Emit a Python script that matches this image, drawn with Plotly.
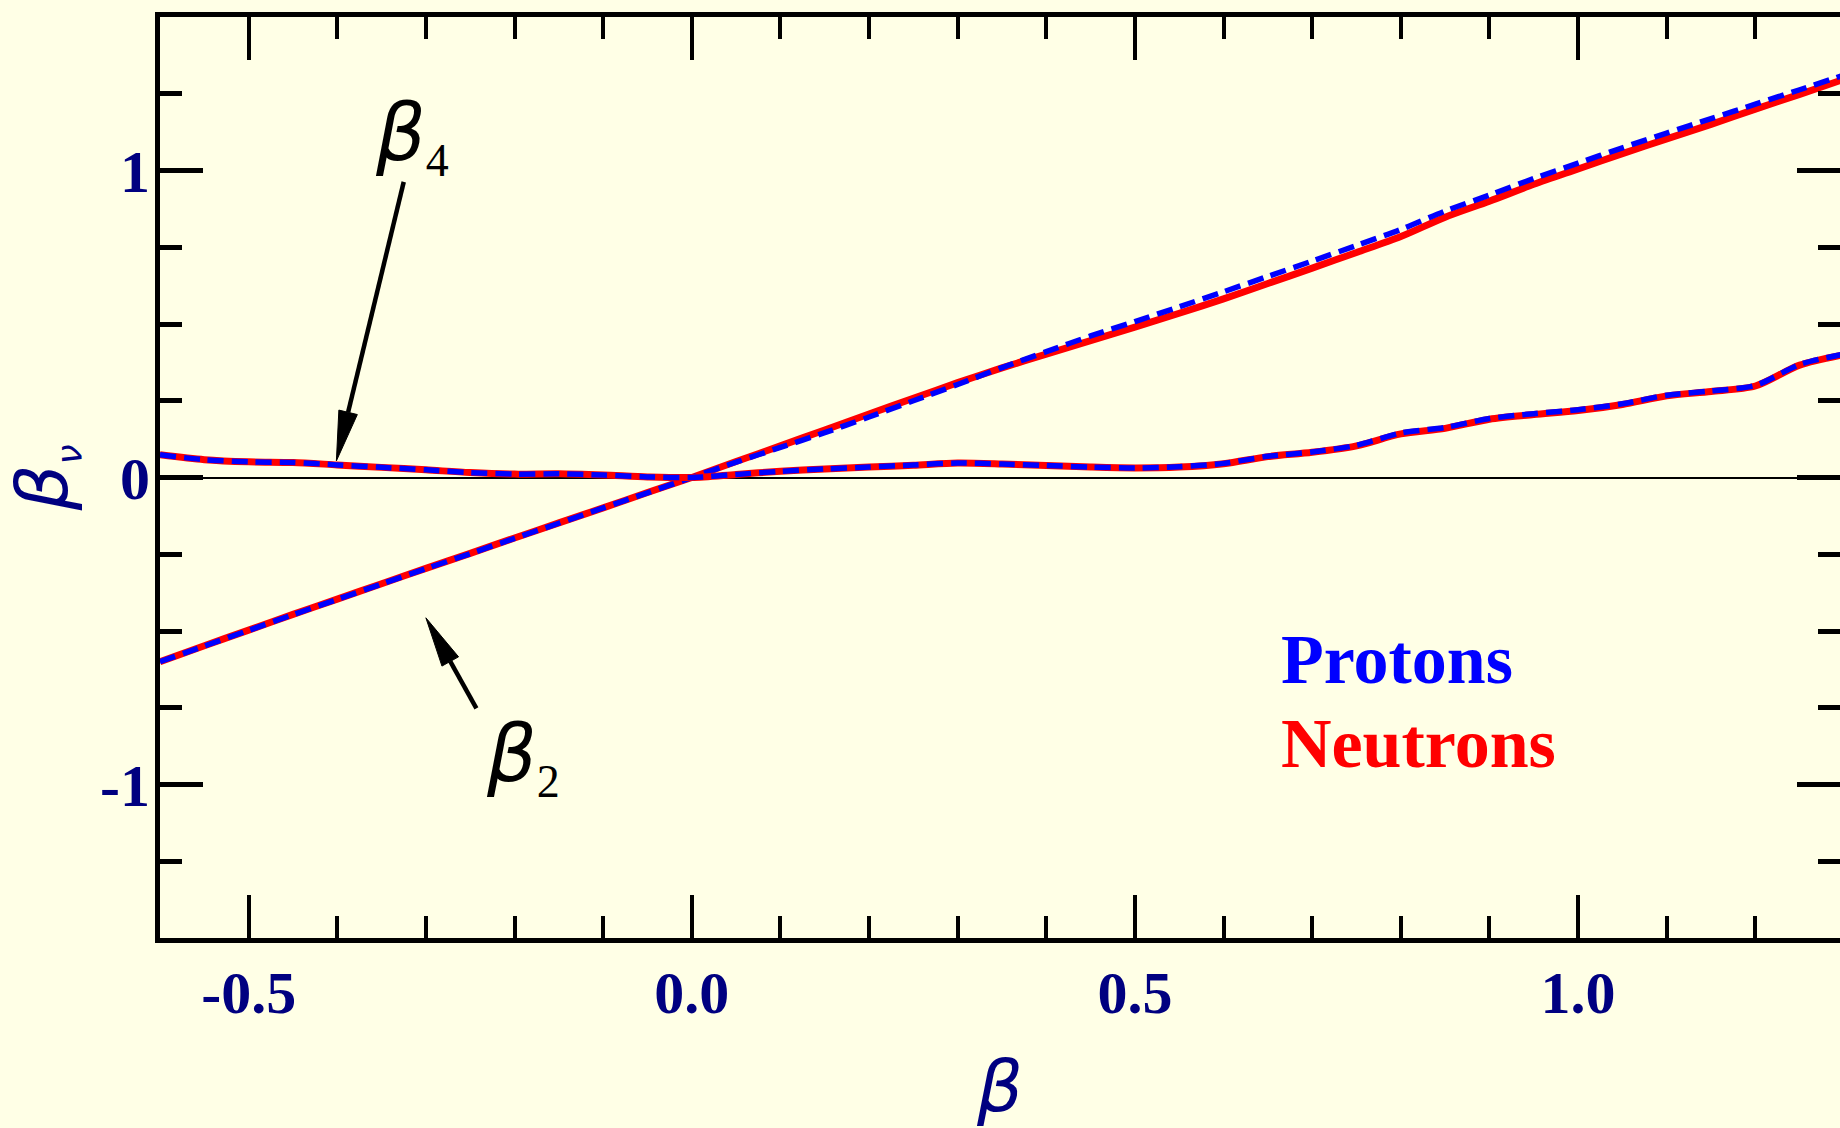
import math
import plotly.graph_objects as go

# ---------------- data ----------------
beta = [-0.60, -0.55, -0.50, -0.45, -0.40, -0.35, -0.30, -0.25, -0.20, -0.15,
        -0.10, -0.05, 0.00, 0.05, 0.10, 0.15, 0.20, 0.25, 0.30, 0.35,
        0.40, 0.45, 0.50, 0.55, 0.60, 0.65, 0.70, 0.75, 0.80, 0.85,
        0.90, 0.95, 1.00, 1.05, 1.10, 1.15, 1.20, 1.25, 1.30]

b2_neutrons = [-0.600, -0.548, -0.497, -0.446, -0.396, -0.346, -0.296, -0.247, -0.197, -0.148,
               -0.099, -0.049, 0.000, 0.052, 0.103, 0.155, 0.207, 0.258, 0.309, 0.357,
               0.402, 0.446, 0.490, 0.535, 0.582, 0.632, 0.682, 0.733, 0.785, 0.848,
               0.900, 0.955, 1.005, 1.055, 1.103, 1.150, 1.200, 1.248, 1.297]

b2_protons = [-0.600, -0.549, -0.498, -0.447, -0.397, -0.347, -0.297, -0.248, -0.198, -0.149,
              -0.099, -0.050, 0.000, 0.050, 0.098, 0.146, 0.197, 0.250, 0.303, 0.358,
              0.410, 0.461, 0.508, 0.556, 0.605, 0.655, 0.705, 0.756, 0.808, 0.868,
              0.920, 0.974, 1.024, 1.074, 1.122, 1.169, 1.216, 1.263, 1.311]

b4_neutrons = [0.074, 0.058, 0.051, 0.049, 0.041, 0.033, 0.025, 0.016, 0.011, 0.012,
               0.008, 0.002, 0.000, 0.010, 0.020, 0.028, 0.034, 0.040, 0.047, 0.044,
               0.039, 0.034, 0.031, 0.034, 0.045, 0.068, 0.082, 0.103, 0.142, 0.160,
               0.190, 0.205, 0.218, 0.238, 0.266, 0.280, 0.298, 0.366, 0.400]

b4_protons = [0.074, 0.058, 0.051, 0.049, 0.041, 0.033, 0.025, 0.016, 0.011, 0.012,
              0.008, 0.002, 0.000, 0.010, 0.020, 0.028, 0.034, 0.041, 0.047, 0.044,
              0.039, 0.034, 0.031, 0.035, 0.046, 0.069, 0.083, 0.105, 0.145, 0.163,
              0.192, 0.208, 0.221, 0.240, 0.268, 0.282, 0.300, 0.368, 0.402]

x_tickvals = [-0.5, 0.0, 0.5, 1.0]
x_ticktext = ["-0.5", "0.0", "0.5", "1.0"]
y_tickvals = [-1, 0, 1]
y_ticktext = ["-1", "0", "1"]

# ---------------- layout constants ----------------
W, H = 1840, 1128
ML, MR, MT, MB = 160, 0, 17, 190
X_MIN, X_MAX = -0.6, 1.2955
Y_MIN, Y_MAX = -1.5, 1.5
PX_X = (W - ML - MR) / (X_MAX - X_MIN)
PX_Y = (H - MT - MB) / (Y_MAX - Y_MIN)

BG = "#FFFFE6"
NAVY = "#000080"

fig = go.Figure()

for yv, col, dash, w, nm in [
    (b2_neutrons, "#FF0000", "solid", 7, "Neutrons β2"),
    (b2_protons, "#0000FF", "16px,8px", 5.5, "Protons β2"),
    (b4_neutrons, "#FF0000", "solid", 7, "Neutrons β4"),
    (b4_protons, "#0000FF", "16px,8px", 5.5, "Protons β4"),
]:
    fig.add_trace(go.Scatter(x=beta, y=yv, mode="lines", name=nm, showlegend=False,
                             line=dict(color=col, width=w, dash=dash, shape="spline", smoothing=0.8)))

# dummy trace on right axis (ticks only)
fig.add_trace(go.Scatter(x=[None], y=[None], yaxis="y2", showlegend=False, hoverinfo="skip"))

tickfont = dict(family="Liberation Serif", size=60, color=NAVY, weight="bold")

fig.update_layout(
    width=W, height=H,
    margin=dict(l=ML, r=MR, t=MT, b=MB, pad=0),
    paper_bgcolor=BG, plot_bgcolor=BG,
    xaxis=dict(range=[X_MIN, X_MAX], showline=True, linewidth=5, linecolor="black",
               mirror="ticks", ticks="inside", ticklen=43, tickwidth=4, tickcolor="black",
               tickmode="array", tickvals=x_tickvals, ticktext=x_ticktext,
               minor=dict(tickmode="linear", tick0=0, dtick=0.1, ticks="inside",
                          ticklen=22, tickwidth=4, tickcolor="black"),
               showgrid=False, zeroline=False, tickfont=tickfont, ticklabelstandoff=-2,
               title=dict(text="<i>β</i>", font=dict(family="DejaVu Sans", size=72, color=NAVY),
                          standoff=38)),
    yaxis=dict(range=[Y_MIN, Y_MAX], showline=True, linewidth=5, linecolor="black",
               mirror=False, ticks="inside", ticklen=43, tickwidth=5, tickcolor="black",
               tickmode="array", tickvals=y_tickvals, ticktext=y_ticktext,
               minor=dict(tickmode="linear", tick0=0, dtick=0.25, ticks="inside",
                          ticklen=22, tickwidth=5, tickcolor="black"),
               showgrid=False, zeroline=True, zerolinecolor="black", zerolinewidth=2,
               tickfont=tickfont, ticklabelstandoff=-7,
               title=dict(text="<i>β</i><sub><span style='font-size:36px'><i>ν</i></span></sub>",
                          font=dict(family="DejaVu Sans", size=72, color=NAVY), standoff=24)),
    yaxis2=dict(range=[Y_MIN, Y_MAX], overlaying="y", side="right", anchor="x",
                showline=False, ticks="inside", ticklen=43, tickwidth=5, tickcolor="black",
                tickmode="array", tickvals=y_tickvals, showticklabels=False,
                minor=dict(tickmode="linear", tick0=0, dtick=0.25, ticks="inside",
                           ticklen=22, tickwidth=5, tickcolor="black"),
                showgrid=False, zeroline=False),
)

# ---------------- annotations ----------------
ann_font = dict(family="DejaVu Sans", size=78, color="black")
sub_style = "font-family:'Liberation Serif';font-size:46px"
fig.add_annotation(x=-0.316, y=1.11, xref="x", yref="y", showarrow=False,
                   text=f"<i>β</i><sub><span style=\"{sub_style}\">4</span></sub>",
                   font=ann_font, xanchor="center", yanchor="middle")
fig.add_annotation(x=-0.191, y=-0.914, xref="x", yref="y", showarrow=False,
                   text=f"<i>β</i><sub><span style=\"{sub_style}\">2</span></sub>",
                   font=ann_font, xanchor="center", yanchor="middle")
fig.add_annotation(x=0.662, y=-0.594, xref="x", yref="y", showarrow=False,
                   text="<b>Protons</b>", xanchor="left", yanchor="middle",
                   font=dict(family="Liberation Serif", size=70, color="#0000FF"))
fig.add_annotation(x=0.662, y=-0.866, xref="x", yref="y", showarrow=False,
                   text="<b>Neutrons</b>", xanchor="left", yanchor="middle",
                   font=dict(family="Liberation Serif", size=70, color="#FF0000"))


def add_arrow(tail, tip, head_len=50, head_w=19, width=4.5):
    (x0, y0), (x1, y1) = tail, tip
    dxp = (x1 - x0) * PX_X
    dyp = -(y1 - y0) * PX_Y
    n = math.hypot(dxp, dyp)
    ux, uy = dxp / n, dyp / n
    px, py = -uy, ux

    def to_data(ox, oy):
        return x1 + ox / PX_X, y1 - oy / PX_Y

    bx, by = to_data(-head_len * ux, -head_len * uy)
    c1 = to_data(-head_len * ux + head_w / 2 * px, -head_len * uy + head_w / 2 * py)
    c2 = to_data(-head_len * ux - head_w / 2 * px, -head_len * uy - head_w / 2 * py)
    fig.add_shape(type="line", x0=x0, y0=y0, x1=bx, y1=by, xref="x", yref="y",
                  line=dict(color="black", width=width), layer="above")
    fig.add_shape(type="path", xref="x", yref="y",
                  path=f"M {x1},{y1} L {c1[0]},{c1[1]} L {c2[0]},{c2[1]} Z",
                  fillcolor="black", line=dict(color="black", width=1), layer="above")


add_arrow((-0.325, 0.963), (-0.401, 0.054))
add_arrow((-0.243, -0.752), (-0.300, -0.457))

fig.write_html("out.html", config={"displayModeBar": False},
               post_script="document.body.style.margin='0';document.body.style.overflow='hidden';")
